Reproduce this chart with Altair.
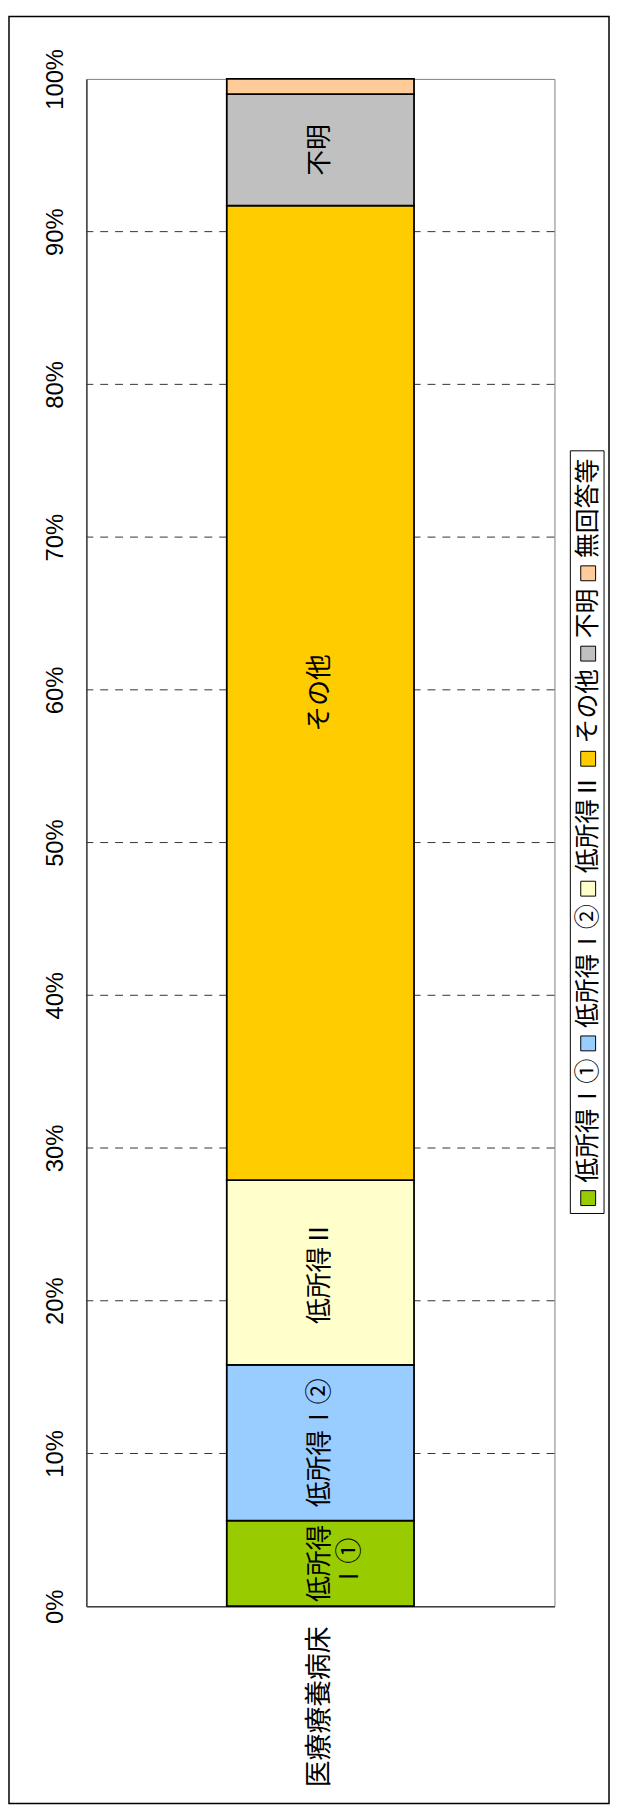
import altair as alt
import pandas as pd

# ---- data ----
group = ["医療療養病床"]
categories = ["低所得Ⅰ①", "低所得Ⅰ②", "低所得Ⅱ", "その他", "不明", "無回答等"]
values = [5.6, 10.2, 12.1, 63.8, 7.3, 1.0]
bar_labels = ["低所得\nⅠ①", "低所得Ⅰ②", "低所得Ⅱ", "その他", "不明", ""]
colors = ["#99CC00", "#99CCFF", "#FFFFCC", "#FFCC00", "#C0C0C0", "#FFCC99"]
tick_values = [0, 10, 20, 30, 40, 50, 60, 70, 80, 90, 100]
grid_values = [10, 20, 30, 40, 50, 60, 70, 80, 90]

# ---- style / layout constants ----
W, H = 472, 1540
CJK = "Noto Sans CJK JP"
NUM = "Liberation Sans Narrow, Arial Narrow, Liberation Sans, sans-serif"
LEG_FONT = 25
LEG_SQ = 15
LEG_GAP = 8
LEG_PAD = 8
LEG_BOTTOM = 1144
LEG_X0, LEG_X1 = 488, 522
LEG_CX = 506

# ---- tables ----
rows = []
cum = 0.0
for c, v, l in zip(categories, values, bar_labels):
    rows.append(dict(group=group[0], cat=c, start=cum, end=cum + v, mid=cum + v / 2, label=l))
    cum += v
df = pd.DataFrame(rows)
grid_df = pd.DataFrame({"g": grid_values})

leg_rows = []
cursor = LEG_PAD
for c in categories:
    leg_rows.append(dict(cat=c, sq=cursor + LEG_SQ / 2, ts=cursor + LEG_SQ + LEG_GAP))
    cursor += LEG_SQ + LEG_GAP + len(c) * LEG_FONT + LEG_GAP
L = cursor - LEG_GAP + LEG_PAD
leg_df = pd.DataFrame(leg_rows)
leg_box = pd.DataFrame({"y0": [0], "y1": [L]})
one = pd.DataFrame({"a": [0]})

y_scale = alt.Scale(domain=[0, 100], nice=False, zero=False)
leg_scale = alt.Scale(domain=[0, L], range=[LEG_BOTTOM, LEG_BOTTOM - L], nice=False, zero=False)
color_enc = alt.Color("cat:N", scale=alt.Scale(domain=categories, range=colors), legend=None)

x_enc = alt.X(
    "group:N",
    scale=alt.Scale(paddingInner=0.6, paddingOuter=0.3),
    axis=alt.Axis(
        title=None, labelAngle=270, labelAlign="right", labelBaseline="middle",
        labelPadding=20, labelFontSize=27, labelFont=CJK, labelColor="black",
        ticks=False, domainColor="#404040", domainWidth=1.5,
    ),
)

grid = alt.Chart(grid_df).mark_rule(strokeDash=[8, 7], color="#333333", strokeWidth=1).encode(
    y=alt.Y("g:Q", scale=y_scale, axis=None)
)

bars = alt.Chart(df).mark_bar(stroke="black", strokeWidth=1.8).encode(
    x=x_enc,
    y=alt.Y(
        "start:Q", scale=y_scale,
        axis=alt.Axis(
            values=tick_values, labelExpr="datum.value + '%'", title=None, grid=False,
            ticks=False, labelAngle=270, labelAlign="center", labelBaseline="alphabetic",
            labelPadding=24, labelFontSize=24, labelFont=NUM, labelColor="black",
            domainColor="#404040", domainWidth=1.5,
        ),
    ),
    y2="end:Q",
    color=color_enc,
)

bar_text = alt.Chart(df).mark_text(
    angle=270, align="center", baseline="middle", lineBreak="\n",
    fontSize=26, font=CJK, lineHeight=30, color="black",
).encode(
    x=x_enc,
    y=alt.Y("mid:Q", scale=y_scale, axis=None),
    text="label:N",
)

legend_box = alt.Chart(leg_box).mark_rect(fill="white", stroke="black", strokeWidth=1).encode(
    x=alt.value(LEG_X0), x2=alt.value(LEG_X1),
    y=alt.Y("y0:Q", scale=leg_scale, axis=None), y2="y1:Q",
)

legend_sq = alt.Chart(leg_df).mark_square(size=LEG_SQ * LEG_SQ, stroke="black", strokeWidth=1, opacity=1).encode(
    x=alt.value(LEG_CX),
    y=alt.Y("sq:Q", scale=leg_scale, axis=None),
    color=color_enc,
)

legend_txt = alt.Chart(leg_df).mark_text(
    angle=270, align="left", baseline="middle", fontSize=LEG_FONT, font=CJK, color="black"
).encode(
    x=alt.value(LEG_CX),
    y=alt.Y("ts:Q", scale=leg_scale, axis=None),
    text="cat:N",
)

border = alt.Chart(one).mark_rect(fillOpacity=0, stroke="black", strokeWidth=1.5).encode(
    x=alt.value(-78), x2=alt.value(527),
    y=alt.value(-63), y2=alt.value(1739),
)

chart = (
    alt.layer(grid, bars, bar_text, legend_box, legend_sq, legend_txt, border)
    .resolve_scale(y="independent")
    .properties(width=W, height=H, padding=0, background="white")
    .configure_view(stroke="#808080", strokeWidth=1)
)

chart.save("out.html", embed_options={"renderer": "svg", "actions": False})
